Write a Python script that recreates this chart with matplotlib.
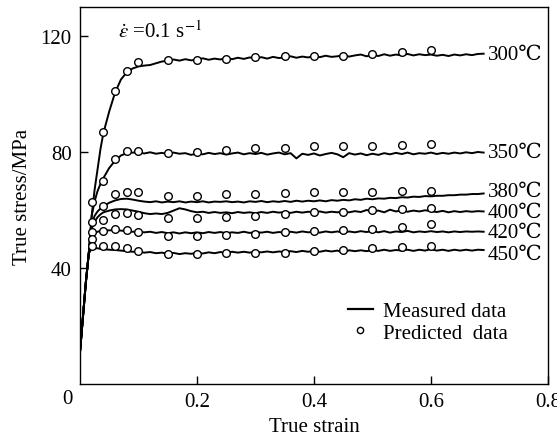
import numpy as np
import matplotlib
matplotlib.use('Agg')
import matplotlib.pyplot as plt
from matplotlib.lines import Line2D

plt.rcParams['font.family'] = ['Liberation Serif', 'DejaVu Serif']
plt.rcParams['mathtext.fontset'] = 'stix'

# measured curves: strain grid (early loading part, then every 0.01)
strain = np.concatenate([
    [0.0, 0.005, 0.01, 0.015, 0.02, 0.025, 0.03, 0.035, 0.04, 0.05, 0.06, 0.07, 0.08, 0.09],
    np.round(np.arange(0.10, 0.695, 0.01), 2),
])

meas_300 = [
    11, 23, 35, 45, 58, 67, 74, 81, 86.5, 94, 100.5, 105, 107.5, 108.8,
    109.5, 109.8, 110.0, 110.6, 111.2, 111.4, 111.9, 111.5, 112.0, 111.6,
    111.9, 112.3, 111.8, 112.2, 111.9, 112.4, 112.0, 112.5, 112.1, 112.6,
    112.3, 112.7, 112.2, 112.8, 112.4, 112.6, 113.0, 112.5, 112.9, 112.6,
    113.1, 112.7, 113.2, 112.8, 113.0, 113.4, 112.9, 113.3, 113.6, 113.0,
    113.5, 113.1, 113.7, 113.2, 113.6, 113.3, 113.8, 113.3, 113.7, 113.4,
    113.6, 113.2, 113.5, 113.1, 113.6, 113.3, 113.7, 113.4, 113.8, 113.9,
]
meas_350 = [
    11, 23, 35, 45, 58, 63, 66.5, 69, 71, 74.5, 77, 78.8, 79.6, 79.8,
    79.8, 79.5, 79.9, 79.4, 79.7, 79.3, 79.8, 79.4, 79.6, 79.0,
    79.5, 79.2, 79.7, 79.3, 79.6, 79.1, 79.5, 79.8, 79.2, 79.6,
    79.3, 79.7, 79.1, 79.5, 79.8, 79.2, 79.6, 77.8, 79.4, 79.0,
    79.5, 78.8, 79.3, 79.7, 79.2, 78.2, 79.6, 79.1, 79.5, 78.9,
    79.4, 79.0, 79.6, 79.2, 79.7, 79.3, 79.8, 79.2, 79.6, 79.4,
    79.8, 79.3, 79.7, 79.4, 79.8, 79.5, 79.9, 79.6, 80.0, 79.8,
]
meas_380 = [
    11, 23, 35, 45, 55, 58, 59.5, 60.5, 61.3, 62.5, 63.3, 63.8, 63.9, 63.6,
    63.2, 62.9, 62.7, 63.0, 62.6, 62.9, 62.7, 63.0, 62.6, 62.9,
    62.7, 63.0, 62.6, 62.9, 62.8, 63.0, 62.7, 62.9, 62.6, 63.0,
    62.8, 63.1, 62.7, 63.0, 62.8, 63.1, 62.8, 63.2, 62.9, 63.2,
    63.0, 63.3, 63.0, 63.4, 63.2, 63.5, 63.3, 63.7, 63.5, 63.9,
    63.7, 64.0, 63.9, 64.2, 64.1, 64.4, 64.3, 64.6, 64.5, 64.8,
    64.7, 64.9, 64.9, 65.1, 65.1, 65.3, 65.3, 65.5, 65.5, 65.7,
]
meas_400 = [
    11, 23, 35, 45, 53.5, 56, 57.5, 58.5, 59.2, 59.8, 60.2, 60.3, 60.2, 59.8,
    59.4, 58.9, 58.6, 58.8, 58.6, 59.0, 59.8, 60.6, 60.2, 59.6,
    59.2, 59.4, 59.0, 59.3, 59.0, 59.2, 58.9, 59.3, 59.0, 59.2,
    58.9, 59.3, 59.0, 59.4, 59.1, 59.3, 59.0, 59.4, 59.1, 59.4,
    59.2, 59.5, 59.1, 59.4, 59.2, 59.5, 59.2, 59.6, 59.3, 60.0,
    59.4, 59.8, 59.2, 60.1, 59.5, 59.9, 59.4, 59.8, 59.5, 59.9,
    59.6, 59.3, 59.7, 59.2, 59.6, 59.3, 59.6, 59.4, 59.6, 59.5,
]
meas_420 = [
    11, 23, 35, 45, 51, 52, 52.5, 52.8, 52.9, 53, 53, 52.9, 52.7, 52.5,
    52.5, 52.3, 52.5, 52.1, 52.4, 52.0, 52.3, 51.9, 52.3, 52.0,
    52.3, 52.0, 52.4, 52.1, 52.4, 52.0, 52.3, 52.1, 52.5, 52.1,
    52.4, 52.2, 52.5, 52.1, 52.4, 52.2, 52.5, 52.2, 52.6, 52.3,
    52.5, 52.2, 52.6, 52.3, 52.6, 52.2, 52.6, 52.3, 52.7, 52.4,
    52.8, 52.3, 52.7, 52.2, 52.6, 52.4, 52.8, 52.3, 52.6, 52.4,
    52.7, 52.4, 52.6, 52.3, 52.6, 52.4, 52.6, 52.5, 52.6, 52.5,
]
meas_450 = [
    11, 23, 35, 45, 46.6, 46.8, 46.8, 46.6, 46.5, 46.3, 46.2, 46.0, 45.8, 45.6,
    45.6, 45.3, 45.5, 45.1, 45.3, 44.9, 45.2, 44.8, 45.1, 44.9,
    45.2, 45.0, 45.4, 45.1, 45.5, 45.2, 45.6, 45.3, 45.6, 45.3,
    45.6, 45.4, 45.7, 45.4, 45.7, 45.5, 45.8, 45.5, 45.9, 45.6,
    45.9, 45.6, 46.0, 45.7, 46.0, 45.3, 46.1, 45.8, 46.1, 45.8,
    46.2, 45.9, 46.3, 45.9, 46.2, 46.0, 46.3, 45.9, 46.3, 46.0,
    46.5, 46.0, 46.3, 45.9, 46.3, 46.0, 46.3, 46.0, 46.3, 46.2,
]

# predicted points
strain_pred = [0.02, 0.04, 0.06, 0.08, 0.10, 0.15, 0.20, 0.25, 0.30, 0.35, 0.40, 0.45, 0.50, 0.55, 0.60]
pred_300 = [np.nan, 87, 101, 108, 111, 111.7, 111.7, 112, 112.7, 113, 113, 113, 113.8, 114.5, 115]
pred_350 = [62.8, 70, 77.6, 80.3, 80.3, 79.7, 80, 80.7, 81.3, 81.4, 82, 82, 82, 82.4, 82.8]
pred_380 = [55.9, 61.4, 65.5, 66.2, 66.2, 64.8, 64.8, 65.5, 65.5, 66, 66.2, 66.2, 66.2, 66.5, 66.5]
pred_400 = [52.4, 56.6, 58.6, 59, 58.3, 57.2, 57.2, 57.6, 58, 58.6, 59.3, 59.3, 60, 60.5, 60.7]
pred_420 = [50, 52.6, 53.4, 53, 52.4, 51, 51, 51.5, 51.7, 52.4, 52.8, 53.1, 53.4, 54.3, 55.2]
pred_450 = [47.6, 47.6, 47.6, 46.9, 45.9, 44.8, 44.8, 45.2, 45.2, 45.2, 45.9, 46.2, 46.9, 47.2, 47.6]

temps = ['300', '350', '380', '400', '420', '450']
label_y = [113.8, 80, 66.5, 59.3, 52.4, 44.8]
measured = [meas_300, meas_350, meas_380, meas_400, meas_420, meas_450]
predicted = [pred_300, pred_350, pred_380, pred_400, pred_420, pred_450]

fig = plt.figure(figsize=(5.57, 4.39), dpi=100)
ax = fig.add_axes([0.1436, 0.123, 0.8402, 0.8588])

for m, p, t, ly in zip(measured, predicted, temps, label_y):
    ax.plot(strain, m, color='black', lw=1.4, zorder=2)
    ax.plot(strain_pred, p, linestyle='none', marker='o', ms=5.5, mfc='white',
            mec='black', mew=1.0, zorder=3)
    ax.text(0.697, ly, t + '℃', fontsize=15, va='center', ha='left')

ax.set_xlim(0, 0.8)
ax.set_ylim(0, 130)
ax.set_xticks([0.2, 0.4, 0.6, 0.8])
ax.set_xticklabels(['0.2', '0.4', '0.6', '0.8'])
ax.set_yticks([40, 80, 120])
ax.tick_params(direction='in', length=6, width=1, labelsize=15, pad=6)
ax.text(-0.015, -0.012, '0', transform=ax.transAxes, ha='right', va='top', fontsize=15)
for s in ax.spines.values():
    s.set_linewidth(1.0)

ax.set_xlabel('True strain', fontsize=15, labelpad=4)
ax.set_ylabel('True stress/MPa', fontsize=15, labelpad=6)

ax.text(0.065, 121.5, r'$\dot{\varepsilon}$ =0.1 s$^{-1}$', fontsize=15, va='center', ha='left')

handles = [Line2D([], [], color='black', lw=1.6),
           Line2D([], [], linestyle='none', marker='o', ms=4.5, mfc='white', mec='black')]
ax.legend(handles, ['Measured data', 'Predicted  data'], loc='lower right',
          bbox_to_anchor=(0.955, 0.06), frameon=False, fontsize=15,
          handlelength=1.2, handletextpad=0.5, labelspacing=0.1)

fig.savefig('out.png', dpi=100)
